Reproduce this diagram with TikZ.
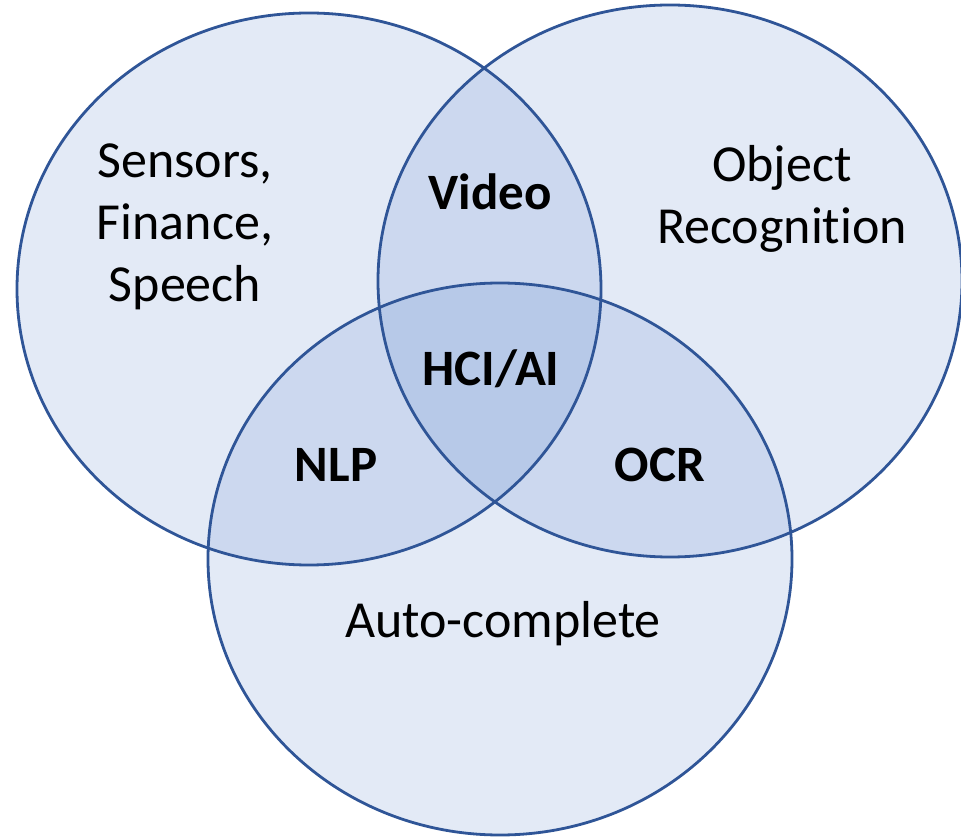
\documentclass[tikz,border=0pt]{standalone}
\usepackage{fontspec}
\setmainfont{Carlito}[Ligatures=NoCommon]

\definecolor{vennline}{HTML}{2F5597}
\definecolor{vennfill}{HTML}{4472C4}

\tikzset{
    setfill/.style={fill=vennfill, fill opacity=0.15},
    setline/.style={draw=vennline, line width=2.8pt},
    lbl/.style={font=\fontsize{52}{62}\selectfont, align=center, inner sep=0pt},
    boldlbl/.style={font=\fontsize{51}{62}\selectfont\bfseries, inner sep=0pt}
}

\begin{document}
\begin{tikzpicture}[x=1pt,y=1pt]
    \useasboundingbox (0,0) rectangle (961,836);

    % the three sets, all the same size
    \coordinate (left) at (309,547);
    \coordinate (right) at (670,555);
    \coordinate (bottom) at (500,277);
    \foreach \c in {left,right,bottom}
        \fill[setfill] (\c) ellipse [x radius=292, y radius=276];
    \foreach \c in {left,right,bottom}
        \draw[setline] (\c) ellipse [x radius=292, y radius=276];

    % single sets
    \node[lbl] (sensors) at (185,609) {Sensors,\\Finance,\\Speech};
    \node[lbl] (objrec) at (782,637) {Object\\Recognition};
    \node[lbl, anchor=base] (autocomp) at (503,199) {Auto-complete};

    % overlaps
    \node[boldlbl, anchor=base] (video) at (490,626) {Video};
    \node[boldlbl, anchor=base] (hciai) at (491,450) {HCI/AI};
    \node[boldlbl, anchor=base] (nlp) at (336,354) {NLP};
    \node[boldlbl, anchor=base] (ocr) at (660,354) {OCR};
\end{tikzpicture}
\end{document}
